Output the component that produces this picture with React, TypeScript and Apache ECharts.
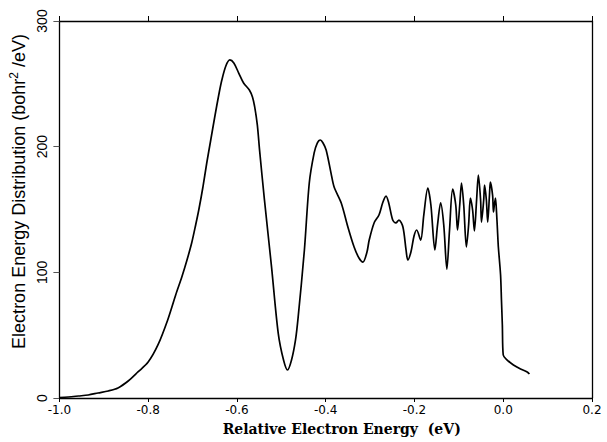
import React, { useEffect, useRef } from "react";
import * as echarts from "echarts";

// Relative electron energy (eV)
const energy: number[] = [
  -1.0, -0.98, -0.957, -0.935, -0.913, -0.89, -0.868, -0.845, -0.823, -0.8,
  -0.778, -0.756, -0.738, -0.724, -0.713, -0.702, -0.693, -0.686, -0.677, -0.668,
  -0.659, -0.65, -0.641, -0.634, -0.625, -0.616, -0.607, -0.596, -0.585, -0.572,
  -0.565, -0.56, -0.554, -0.549, -0.538, -0.522, -0.507, -0.495, -0.486, -0.477,
  -0.468, -0.462, -0.448, -0.437, -0.426, -0.419, -0.412, -0.406, -0.399, -0.388,
  -0.381, -0.365, -0.35, -0.336, -0.325, -0.316, -0.307, -0.302, -0.291, -0.28,
  -0.271, -0.264, -0.258, -0.249, -0.242, -0.235, -0.226, -0.219, -0.215, -0.208,
  -0.201, -0.195, -0.186, -0.179, -0.17, -0.163, -0.154, -0.148, -0.141, -0.134,
  -0.127, -0.121, -0.114, -0.107, -0.103, -0.098, -0.094, -0.089, -0.083, -0.078,
  -0.074, -0.069, -0.065, -0.06, -0.056, -0.051, -0.049, -0.044, -0.042, -0.038,
  -0.035, -0.031, -0.029, -0.024, -0.022, -0.02, -0.0175, -0.015, -0.013, -0.011,
  -0.006, -0.004, -0.002, 0.0, 0.009, 0.023, 0.039, 0.054, 0.059,
];

// Electron energy distribution (bohr^2/eV)
const distribution: number[] = [
  0.4, 0.8, 1.6, 2.4, 4.0, 5.6, 8.0, 13.5, 20.7, 28.6,
  42.2, 62.1, 82.0, 96.5, 109.2, 123.3, 137.7, 149.6, 167.1, 187.0,
  205.3, 223.6, 241.1, 253.0, 264.2, 269.0, 266.6, 258.6, 250.7, 245.1,
  239.5, 231.6, 217.2, 197.3, 157.6, 104.2, 51.7, 30.2, 22.3, 30.2,
  46.2, 64.5, 117.8, 171.1, 195.0, 202.9, 205.3, 202.9, 197.3, 179.0,
  167.9, 155.2, 136.1, 120.2, 111.4, 108.2, 116.2, 125.7, 139.3, 145.6,
  156.0, 160.7, 155.2, 141.6, 139.3, 141.6, 136.1, 117.8, 109.8, 116.2,
  128.9, 133.7, 125.7, 145.6, 167.1, 153.6, 117.8, 137.7, 155.2, 137.7,
  102.6, 133.7, 166.3, 153.6, 133.7, 153.6, 171.1, 153.6, 120.2, 137.7,
  159.1, 149.6, 132.9, 157.6, 177.4, 157.6, 140.0, 157.6, 169.5, 157.6,
  140.0, 161.5, 171.9, 161.5, 148.0, 153.6, 159.1, 147.2, 133.7, 120.2,
  97.9, 78.0, 58.1, 34.2, 30.2, 26.3, 23.1, 20.7, 19.1,
];

const xTicks = { min: -1.0, max: 0.2, interval: 0.2 };
const yTicks = { min: 0, max: 300, interval: 100 };

const xTitle = "Relative Electron Energy  (eV)";
const yTitle = "Electron Energy Distribution (bohr{sup|2} /eV)";

export default function App() {
  const ref = useRef<HTMLDivElement>(null);

  useEffect(() => {
    if (!ref.current) return;
    const chart = echarts.init(ref.current, undefined, { renderer: "svg" });
    const points = energy.map((e, i) => [e, distribution[i]]);
    const fmtX = (v: number) => (Math.abs(v) < 1e-9 ? "0.0" : v.toFixed(1));

    chart.setOption({
      animation: false,
      backgroundColor: "#ffffff",
      grid: { left: 56, right: 15, top: 21, bottom: 44, containLabel: false },
      xAxis: [
        {
          type: "value",
          position: "bottom",
          min: xTicks.min,
          max: xTicks.max,
          interval: xTicks.interval,
          axisLine: { show: true, onZero: false, lineStyle: { color: "#000", width: 1.3 } },
          axisTick: { show: true, inside: false, length: 4, lineStyle: { color: "#000", width: 1 } },
          axisLabel: {
            show: true,
            margin: 6,
            formatter: fmtX,
            color: "#000",
            fontFamily: "DejaVu Sans",
            fontSize: 12,
          },
          splitLine: { show: false },
          name: xTitle,
          nameLocation: "middle",
          nameGap: 24,
          nameTextStyle: {
            color: "#000",
            fontFamily: "DejaVu Serif",
            fontWeight: "bold",
            fontSize: 14,
            padding: [0, 0, 0, 32],
          },
        },
        {
          type: "value",
          position: "top",
          min: xTicks.min,
          max: xTicks.max,
          interval: xTicks.interval,
          axisLine: { show: true, onZero: false, lineStyle: { color: "#000", width: 1.3 } },
          axisTick: { show: true, inside: false, length: 5, lineStyle: { color: "#000", width: 1 } },
          axisLabel: { show: false },
          splitLine: { show: false },
        },
      ],
      yAxis: [
        {
          type: "value",
          position: "left",
          min: yTicks.min,
          max: yTicks.max,
          interval: yTicks.interval,
          axisLine: { show: true, onZero: false, lineStyle: { color: "#000", width: 1.3 } },
          axisTick: { show: true, inside: false, length: 6, lineStyle: { color: "#555", width: 1 } },
          axisLabel: {
            show: true,
            rotate: 90,
            margin: 10,
            color: "#000",
            fontFamily: "Liberation Sans",
            fontSize: 14,
          },
          splitLine: { show: false },
          name: yTitle,
          nameLocation: "middle",
          nameRotate: 90,
          nameGap: 22,
          nameTextStyle: {
            color: "#000",
            fontFamily: "Liberation Sans",
            fontSize: 18,
            padding: [0, 0, 0, 36],
            rich: {
              sup: {
                fontFamily: "Liberation Sans",
                fontSize: 12,
                color: "#000",
                verticalAlign: "top",
                padding: [0, 0, 9, 0],
              },
            },
          },
        },
        {
          type: "value",
          position: "right",
          min: yTicks.min,
          max: yTicks.max,
          interval: yTicks.interval,
          axisLine: { show: true, onZero: false, lineStyle: { color: "#000", width: 1.3 } },
          axisTick: { show: false },
          axisLabel: { show: false },
          splitLine: { show: false },
        },
      ],
      series: [
        {
          type: "line",
          xAxisIndex: 0,
          yAxisIndex: 0,
          data: points,
          showSymbol: false,
          smooth: 0.3,
          lineStyle: { color: "#000", width: 1.7 },
          silent: true,
        },
      ],
    });

    return () => chart.dispose();
  }, []);

  return (
    <div
      ref={ref}
      style={{ position: "fixed", left: 0, top: 0, width: 607, height: 442, background: "#fff" }}
    />
  );
}
